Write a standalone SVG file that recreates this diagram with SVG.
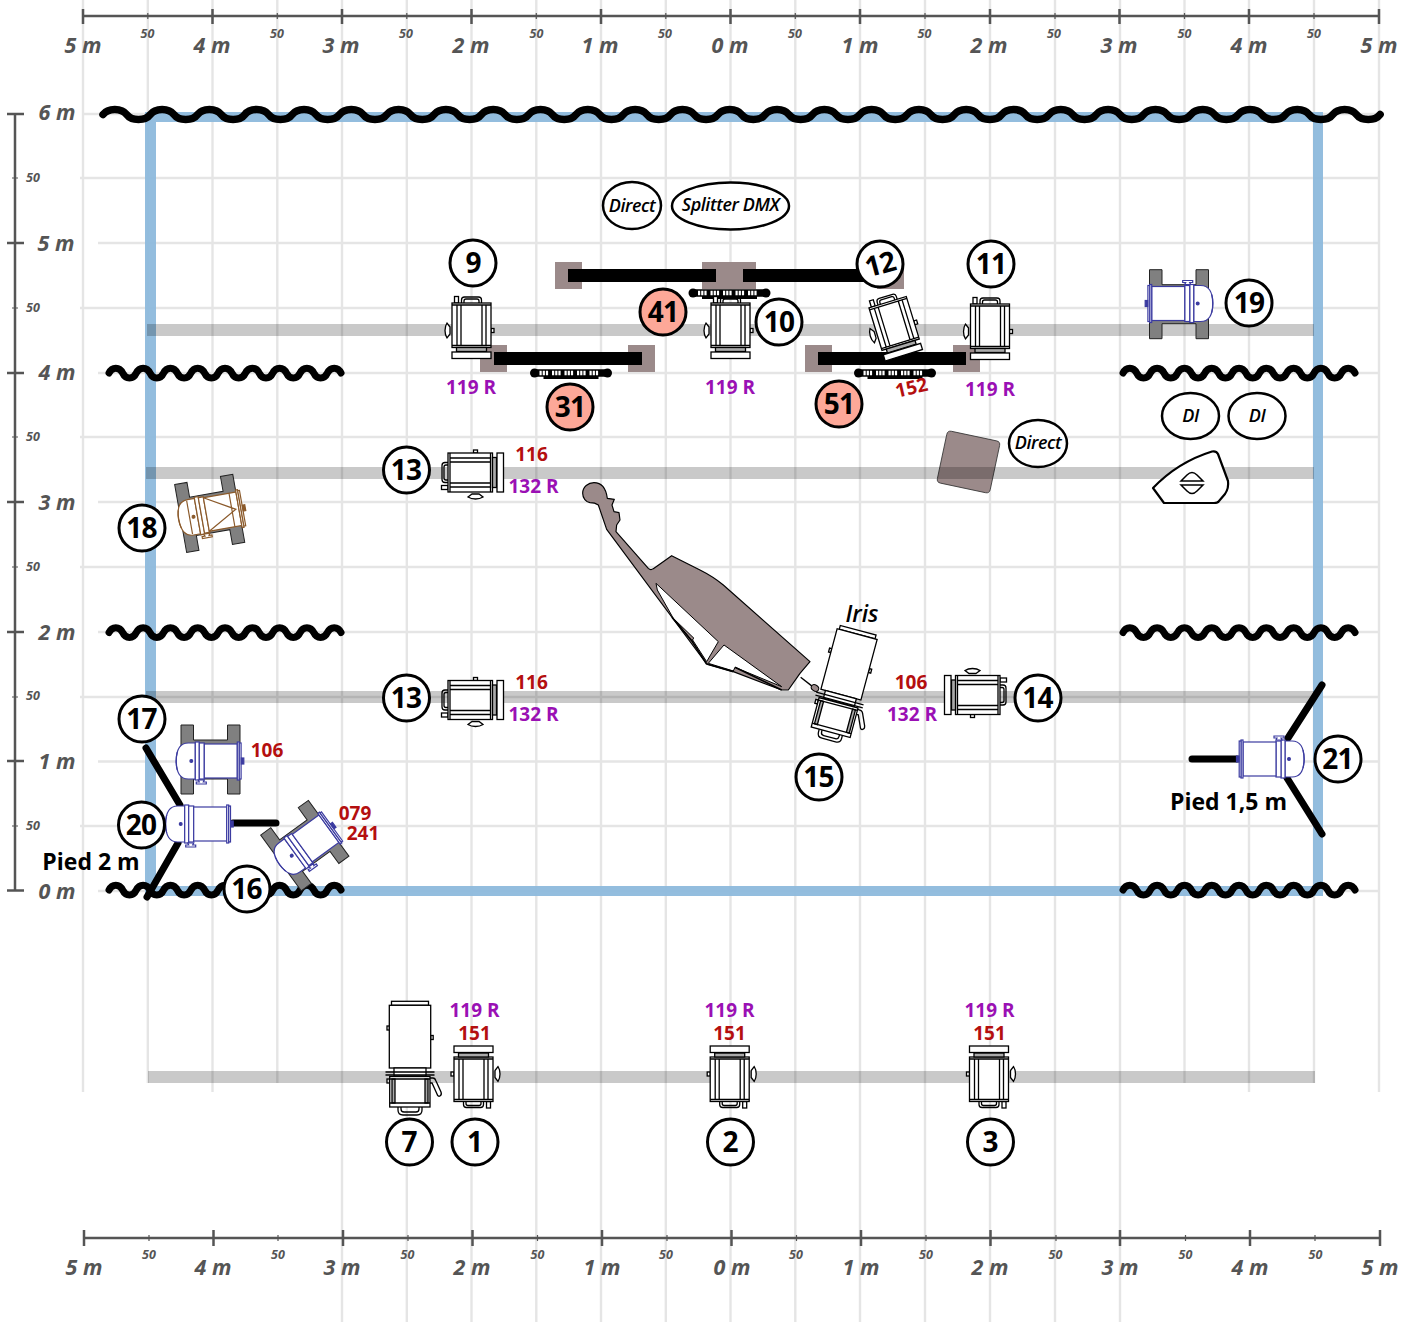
<svg xmlns="http://www.w3.org/2000/svg" xmlns:xlink="http://www.w3.org/1999/xlink" width="1413" height="1322" viewBox="0 0 1413 1322">
<style>
text{font-family:"Open Sans","Noto Sans",sans-serif}
.grid line{stroke:#e5e5e5;stroke-width:2.4}
.rul line,.rul path{stroke:#555;fill:none}
.rul .a{stroke-width:2.5}
.rul .b{stroke-width:1.2}
.m{font-size:21.5px;font-weight:700;font-style:italic;fill:#555;text-anchor:middle}
.h{font-size:12.5px;font-weight:700;font-style:italic;fill:#555;text-anchor:middle}
.wave{fill:none;stroke:#000;stroke-linecap:round;stroke-linejoin:round}
.c{fill:#fff;stroke:#000;stroke-width:3}
.s{fill:#fda898;stroke:#000;stroke-width:3}
.n{font-size:28px;font-weight:700;fill:#000;text-anchor:middle;letter-spacing:-.8px}
.e{fill:#fff;stroke:#000;stroke-width:2.5}
.i{font-size:18px;font-weight:600;font-style:italic;fill:#000;text-anchor:middle;letter-spacing:-.4px}
.p{font-size:19px;font-weight:700;fill:#9a10b4;text-anchor:middle}
.r{font-size:19px;font-weight:700;fill:#b40f0f;text-anchor:middle}
.k{font-size:23px;font-weight:700;fill:#000;text-anchor:middle}
.riser{fill:#9b8a8a}
.bar{fill:#000}
.pipe{fill:#000;fill-opacity:.21}
.leg{stroke:#000;stroke-width:7;stroke-linecap:round;fill:none}
.fx *{fill:#fff;stroke:#000;stroke-width:1.3}
.fx .g{fill:#aaa}
.fx .l{fill:none}
.lamp *{fill:#fff;stroke:currentColor;stroke-width:1.2}
.lamp .d{fill:currentColor}
.lamp .l{fill:none}
.base{fill:#808080;stroke:#222;stroke-width:1}
</style>
<defs>
<path id="wl" d="M0 0c3 -6.500 10.650 -6.500 13.650 0s10.650 6.500 13.650 0s10.650 -6.500 13.650 0s10.650 6.500 13.650 0s10.650 -6.500 13.650 0s10.650 6.500 13.650 0s10.650 -6.500 13.650 0s10.650 6.500 13.650 0s10.650 -6.500 13.650 0s10.650 6.500 13.650 0s10.650 -6.500 13.650 0s10.650 6.500 13.650 0s10.650 -6.500 13.650 0s10.650 6.500 13.650 0s10.650 -6.500 13.650 0s10.650 6.500 13.650 0s10.650 -6.500 13.650 0"/>
<g id="par" class="fx">
<path class="l" d="M-10 -27v-3q0 -3 3 -3h14q3 0 3 3v3M-7.500 -27v-2q0 -2 2 -2h11q2 0 2 2v2"/>
<rect x="-17" y="-33.500" width="4" height="6.500"/>
<path d="M-21.500 -3l-3 -4q-2 3 -2 7.500t2 7.500l3 -4z"/>
<rect x="19.500" y="-1.500" width="3" height="4"/>
<rect x="-19.500" y="-27" width="39" height="44.500"/>
<path class="l" d="M-19.500 -25h39M-19.500 15.500h39M-14.500 -25v40.500M-10.500 -25v40.500M10.500 -25v40.500M14.500 -25v40.500"/>
<rect class="g" x="-15" y="17.500" width="30" height="4"/>
<rect x="-19.500" y="22" width="39" height="6.500"/>
</g>
<g id="amp" class="fx">
<rect x="-18.500" y="-56.700" width="37" height="4"/>
<rect x="-23" y="-32" width="2.500" height="4"/>
<rect x="20.700" y="-22.500" width="2.500" height="4"/>
<rect x="-20.700" y="-52.700" width="41.400" height="62.700"/>
<rect x="-16" y="10" width="32" height="8"/>
<path class="l" d="M-24.500 14h49M-24.500 17h49"/>
<path class="l" d="M20 20h3q2 0 3 3l5 11q1 3 -1 4t-3 -2l-5 -11h-2"/>
<rect x="-23" y="21" width="2.500" height="4"/>
<path class="l" d="M-12 49v3q0 5 5 5h14q5 0 5 -5v-3M-9 49v2q0 3 3 3h12q3 0 3 -3v-2"/>
<rect x="-20.300" y="18.500" width="40.300" height="30.500"/>
<rect class="g" x="-18" y="21" width="3" height="24"/>
<rect class="g" x="15" y="21" width="3" height="24"/>
<path class="l" d="M-20.300 45h40.300M-20.300 21h40.300"/>
</g>
<g id="lamp" class="lamp">
<path d="M-12 -18H-19Q-31 -18 -31 0Q-31 18 -19 18H-12Z"/>
<path class="l" d="M-30 -9Q-32.500 0 -30 9"/>
<rect x="-12" y="-19" width="4" height="38"/>
<rect x="-8" y="-18" width="5" height="36"/>
<rect x="-3" y="-17" width="33" height="34"/>
<rect x="30" y="-19" width="2" height="38"/>
<rect x="32" y="-18" width="1.800" height="36"/>
<rect class="d" x="34" y="-3" width="2.500" height="6"/>
<circle class="d" cx="-16" cy="0" r="1.400"/>
<path d="M-9 19l1 2h-3l0 2h10l0 -2h-3l1 -2z"/>
</g>
<g id="base"><path class="base" d="M-29 -35H-16.500V-20H17.500V-35H30V34H17.500V19H-16.500V34H-29Z"/></g>
<g id="strip">
<circle cx="-36.500" r="4.500"/><circle cx="36.500" r="4.500"/>
<rect x="-37" y="-3.800" width="74" height="7.600" rx="2"/>
<rect x="-27.500" y="2" width="55" height="4"/>
<path stroke="#fff" stroke-width="4.600" d="M-31.500 0h2.200m1 0h2.200m1 0h2.200M-19 0h2.200m1 0h2.200m1 0h2.200M-6.500 0h2.200m1 0h2.200m1 0h2.200M6 0h2.200m1 0h2.200m1 0h2.200M18.500 0h2.200m1 0h2.200m1 0h2.200"/>
</g>
</defs>
<rect width="1413" height="1322" fill="#fff"/>
<g id="grid" class="grid">
<line x1="83" y1="0" x2="83" y2="1092"/><line x1="147.800" y1="0" x2="147.800" y2="1083"/><line x1="212.500" y1="0" x2="212.500" y2="1092"/><line x1="277.300" y1="0" x2="277.300" y2="1083"/><line x1="342" y1="0" x2="342" y2="1322"/><line x1="406.800" y1="0" x2="406.800" y2="1322"/><line x1="471.500" y1="0" x2="471.500" y2="1322"/><line x1="536.300" y1="0" x2="536.300" y2="1322"/><line x1="601" y1="0" x2="601" y2="1322"/><line x1="665.800" y1="0" x2="665.800" y2="1322"/><line x1="730.500" y1="0" x2="730.500" y2="1322"/><line x1="795.300" y1="0" x2="795.300" y2="1322"/><line x1="860" y1="0" x2="860" y2="1322"/><line x1="925" y1="0" x2="925" y2="1322"/><line x1="990" y1="0" x2="990" y2="1322"/><line x1="1055" y1="0" x2="1055" y2="1322"/><line x1="1120" y1="0" x2="1120" y2="1322"/><line x1="1184.500" y1="0" x2="1184.500" y2="1083"/><line x1="1249" y1="0" x2="1249" y2="1092"/><line x1="1314" y1="0" x2="1314" y2="1083"/><line x1="1379" y1="0" x2="1379" y2="1092"/>
<line x1="83" y1="114" x2="1379" y2="114"/><line x1="80" y1="178" x2="1379" y2="178"/><line x1="98" y1="243" x2="1379" y2="243"/><line x1="80" y1="308" x2="1379" y2="308"/><line x1="98" y1="373" x2="1379" y2="373"/><line x1="80" y1="437" x2="1379" y2="437"/><line x1="98" y1="502" x2="1379" y2="502"/><line x1="80" y1="567" x2="1379" y2="567"/><line x1="98" y1="632" x2="1379" y2="632"/><line x1="80" y1="697" x2="1379" y2="697"/><line x1="98" y1="761.500" x2="1379" y2="761.500"/><line x1="80" y1="826" x2="1379" y2="826"/><line x1="98" y1="891" x2="1379" y2="891"/>
</g>
<g id="rulers" class="rul">
<line class="a" x1="83" y1="16" x2="1379" y2="16"/>
<path class="a" d="M83 9v15M212.500 9v15M342 9v15M471.500 9v15M601 9v15M730.500 9v15M860 9v15M990 9v15M1119.500 9v15M1249 9v15M1379 9v15"/>
<path class="b" d="M147.800 13v6M277.300 13v6M406.800 13v6M536.300 13v6M665.800 13v6M795.300 13v6M925 13v6M1055 13v6M1184.500 13v6M1314 13v6"/>
<line class="a" x1="84" y1="1238" x2="1380" y2="1238"/>
<path class="a" d="M84 1230v16M213.500 1230v16M343 1230v16M472.500 1230v16M602 1230v16M731.500 1230v16M861 1230v16M990.500 1230v16M1120 1230v16M1250 1230v16M1380 1230v16"/>
<path class="b" d="M149 1235v6M278 1235v6M408 1235v6M537.500 1235v6M667 1235v6M796.500 1235v6M926 1235v6M1056 1235v6M1185.500 1235v6M1315 1235v6"/>
<line class="a" x1="15" y1="114" x2="15" y2="891"/>
<path class="a" d="M7 114h17M7 243h17M7 373h17M7 502h17M7 632h17M7 761h17M7 890.500h17"/>
<path class="b" d="M12 178h6M12 308h6M12 437h6M12 567h6M12 697h6M12 826h6"/>
</g>
<g id="ruler-labels">
<text class="m" x="83" y="53">5 m</text><text class="m" x="212" y="53">4 m</text><text class="m" x="341" y="53">3 m</text><text class="m" x="471" y="53">2 m</text><text class="m" x="600" y="53">1 m</text><text class="m" x="730" y="53">0 m</text><text class="m" x="860" y="53">1 m</text><text class="m" x="989" y="53">2 m</text><text class="m" x="1119" y="53">3 m</text><text class="m" x="1249" y="53">4 m</text><text class="m" x="1379" y="53">5 m</text>
<text class="h" x="147.500" y="38">50</text><text class="h" x="277" y="38">50</text><text class="h" x="406" y="38">50</text><text class="h" x="536.500" y="38">50</text><text class="h" x="665" y="38">50</text><text class="h" x="795" y="38">50</text><text class="h" x="924.500" y="38">50</text><text class="h" x="1054" y="38">50</text><text class="h" x="1184.500" y="38">50</text><text class="h" x="1314" y="38">50</text>
<text class="m" x="84" y="1275">5 m</text><text class="m" x="213" y="1275">4 m</text><text class="m" x="342" y="1275">3 m</text><text class="m" x="472" y="1275">2 m</text><text class="m" x="602" y="1275">1 m</text><text class="m" x="732" y="1275">0 m</text><text class="m" x="861" y="1275">1 m</text><text class="m" x="990" y="1275">2 m</text><text class="m" x="1120" y="1275">3 m</text><text class="m" x="1250" y="1275">4 m</text><text class="m" x="1380" y="1275">5 m</text>
<text class="h" x="149" y="1259">50</text><text class="h" x="278" y="1259">50</text><text class="h" x="407.500" y="1259">50</text><text class="h" x="537.500" y="1259">50</text><text class="h" x="666" y="1259">50</text><text class="h" x="796" y="1259">50</text><text class="h" x="926" y="1259">50</text><text class="h" x="1055.500" y="1259">50</text><text class="h" x="1185.500" y="1259">50</text><text class="h" x="1315.500" y="1259">50</text>
<text class="m" x="57" y="120">6 m</text><text class="m" x="56" y="250.500">5 m</text><text class="m" x="57" y="380">4 m</text><text class="m" x="57" y="510">3 m</text><text class="m" x="57" y="640">2 m</text><text class="m" x="57" y="769">1 m</text><text class="m" x="57" y="898.500">0 m</text>
<text class="h" x="33" y="182">50</text><text class="h" x="33" y="312">50</text><text class="h" x="33" y="441">50</text><text class="h" x="33" y="571">50</text><text class="h" x="33" y="700">50</text><text class="h" x="33" y="830">50</text>
</g>
<g id="stage">
<path fill="#8db9dc" fill-opacity=".95" d="M145 112H1323V896H145ZM156 122V886H1313V122Z" fill-rule="evenodd"/>
<rect class="riser" x="555" y="262" width="27" height="27"/><rect class="riser" x="702" y="262" width="54" height="27"/><rect class="riser" x="877" y="262" width="27" height="27"/>
<rect class="riser" x="480" y="345" width="27" height="27"/><rect class="riser" x="628" y="345" width="27" height="27"/><rect class="riser" x="805" y="345" width="27" height="27"/><rect class="riser" x="953" y="345" width="27" height="27"/>
<rect id="riser-table" class="riser" x="941.500" y="435.500" width="54" height="53" rx="4" stroke="#333" stroke-width=".8" transform="rotate(12 968.500 462)"/>
<rect class="pipe" x="147" y="324" width="1167" height="12"/>
<rect class="pipe" x="146" y="467" width="1168" height="12"/>
<rect class="pipe" x="146" y="691" width="1168" height="12"/>
<rect class="pipe" x="148" y="1071" width="1167" height="12"/>
</g>
<g id="waves">
<path class="wave" stroke-width="7.500" d="M103 114.500c5 -6.700 18.650 -6.700 23.650 0s18.650 6.700 23.650 0s18.650 -6.700 23.650 0s18.650 6.700 23.650 0s18.650 -6.700 23.650 0s18.650 6.700 23.650 0s18.650 -6.700 23.650 0s18.650 6.700 23.650 0s18.650 -6.700 23.650 0s18.650 6.700 23.650 0s18.650 -6.700 23.650 0s18.650 6.700 23.650 0s18.650 -6.700 23.650 0s18.650 6.700 23.650 0s18.650 -6.700 23.650 0s18.650 6.700 23.650 0s18.650 -6.700 23.650 0s18.650 6.700 23.650 0s18.650 -6.700 23.650 0s18.650 6.700 23.650 0s18.650 -6.700 23.650 0s18.650 6.700 23.650 0s18.650 -6.700 23.650 0s18.650 6.700 23.650 0s18.650 -6.700 23.650 0s18.650 6.700 23.650 0s18.650 -6.700 23.650 0s18.650 6.700 23.650 0s18.650 -6.700 23.650 0s18.650 6.700 23.650 0s18.650 -6.700 23.650 0s18.650 6.700 23.650 0s18.650 -6.700 23.650 0s18.650 6.700 23.650 0s18.650 -6.700 23.650 0s18.650 6.700 23.650 0s18.650 -6.700 23.650 0s18.650 6.700 23.650 0s18.650 -6.700 23.650 0s18.650 6.700 23.650 0s18.650 -6.700 23.650 0s18.650 6.700 23.650 0s18.650 -6.700 23.650 0s18.650 6.700 23.650 0s18.650 -6.700 23.650 0s18.650 6.700 23.650 0s18.650 -6.700 23.650 0s18.650 6.700 23.650 0s18.650 -6.700 23.650 0s18.650 6.700 23.650 0s18.650 -6.700 23.650 0s18.650 6.700 23.650 0s18.650 -6.700 23.650 0s18.650 6.700 23.650 0"/>
<use class="wave" stroke-width="7" href="#wl" x="109" y="373"/><use class="wave" stroke-width="7" href="#wl" x="1123" y="373"/>
<use class="wave" stroke-width="7" href="#wl" x="109" y="632.500"/><use class="wave" stroke-width="7" href="#wl" x="1123" y="632.500"/>
<use class="wave" stroke-width="7" href="#wl" x="109" y="890"/><use class="wave" stroke-width="7" href="#wl" x="1123" y="890"/>
</g>
<g id="bars">
<rect class="bar" x="568" y="269" width="148" height="13"/><rect class="bar" x="743" y="269" width="148" height="13"/>
<rect class="bar" x="494" y="352" width="148" height="13"/><rect class="bar" x="818" y="352" width="148" height="13"/>
</g>
<g id="legs">
<path class="leg" d="M146 748L180 805M147 897L178 843M233 823H276"/>
<path class="leg" d="M1322 685L1288 738M1322 834L1287 778M1192 759H1237"/>
</g>
<g id="bass" transform="translate(570 470) scale(.3333)">
<path fill="#9b8a8a" stroke="#000" stroke-width="3.500" stroke-linejoin="round" d="M38 70C38 50 55 38 72 38C95 38 108 55 112 85L133 88L126 105L132 125L147 128L150 150L140 165L138 185L235 295Q242 302 250 296L305 257L390 300Q430 320 460 345L720 575L690 610L655 660L635 660L490 605L410 582L110 178L85 105Q75 98 60 98C48 96 38 85 38 70Z"/>
<path fill="#fff" stroke="#000" stroke-width="3" d="M258 340L445 515L410 575L368 510L310 445L262 360Z"/>
<path fill="#9b8a8a" stroke="#000" stroke-width="3" d="M310 445L372 505L365 512L360 505Z"/>
<path fill="#fff" stroke="#000" stroke-width="3" d="M462 525L635 650L495 592L490 603L415 580Z"/>
<path fill="none" stroke="#000" stroke-width="5" d="M410 582L490 605M495 592L635 660M306 442L365 512L410 582"/>
<path fill="none" stroke="#000" stroke-width="4" d="M692 622L728 650"/>
<ellipse cx="735" cy="654" rx="12" ry="9" fill="#9b8a8a" stroke="#000" stroke-width="3" transform="rotate(35 735 654)"/>
</g>
<g id="strip-41"><use href="#strip" x="729.500" y="293"/></g>
<g id="strip-31"><use href="#strip" x="571" y="373"/></g>
<g id="strip-51"><use href="#strip" x="895" y="373"/></g>
<g id="fx-9"><use href="#par" transform="translate(471.500 330)"/></g>
<g id="fx-10"><use href="#par" transform="translate(730.500 330)"/></g>
<g id="fx-11"><use href="#par" transform="translate(990 331)"/></g>
<g id="fx-12"><use href="#par" transform="translate(895.500 328) rotate(-17)"/></g>
<g id="fx-13a"><use href="#par" transform="translate(475 472.500) rotate(-90)"/></g>
<g id="fx-13b"><use href="#par" transform="translate(475 700) rotate(-90)"/></g>
<g id="fx-14"><use href="#par" transform="translate(973 695) rotate(90)"/></g>
<g id="fx-1"><use href="#par" transform="translate(473.500 1074.500) rotate(180)"/></g>
<g id="fx-2"><use href="#par" transform="translate(729.700 1074.500) rotate(180)"/></g>
<g id="fx-3"><use href="#par" transform="translate(989 1074.500) rotate(180)"/></g>
<g id="fx-7"><use href="#amp" transform="translate(410 1058)"/></g>
<g id="fx-15"><use href="#amp" transform="translate(843.500 685) rotate(15)"/></g>
<g id="fx-17"><use href="#base" transform="translate(210 760)"/><use href="#lamp" color="#3b3ba0" transform="translate(207.300 761)"/></g>
<g id="fx-20"><use href="#lamp" color="#3b3ba0" transform="translate(196.700 824)"/></g>
<g id="fx-16"><use href="#base" transform="translate(304.700 846.300) rotate(-36)"/><use href="#lamp" color="#3b3ba0" transform="translate(304.700 846.300) rotate(-36)"/></g>
<g id="fx-19"><use href="#base" transform="translate(1178.500 304.700)"/><use href="#lamp" color="#3b3ba0" transform="translate(1181.700 303.500) rotate(180)"/></g>
<g id="fx-21"><use href="#lamp" color="#3b3ba0" transform="translate(1273 759) rotate(180)"/></g>
<g id="fx-18"><use href="#base" transform="translate(209.300 514) rotate(-10)"/><use href="#lamp" color="#8b5a2b" transform="translate(209.300 514) rotate(-10)"/><path fill="none" stroke="#8b5a2b" stroke-width="1.200" transform="translate(209.300 514) rotate(-10)" d="M-3 -17L27 0L-3 17M-20 -17V17M23 -17V17"/></g>
<g id="mon"><path fill="#fff" stroke="#000" stroke-width="2.200" stroke-linejoin="round" d="M1153 488Q1178 462 1212 451.500Q1216 450.500 1218 454L1228 481Q1229 488 1225 494L1219 501Q1218 503 1214 503H1164Z"/><path fill="none" stroke="#000" stroke-width="1.500" d="M1181 481H1203L1197 475Q1192 470 1187 475ZM1181 485H1203L1197 491Q1192 496 1187 491Z"/></g>
<g id="e-direct"><ellipse class="e" cx="632" cy="205.500" rx="29" ry="23.500"/><text class="i" x="632" y="212">Direct</text></g>
<g id="e-splitter"><ellipse class="e" cx="730.500" cy="206" rx="58.500" ry="23.500"/><text class="i" x="730.500" y="211">Splitter DMX</text></g>
<g id="e-direct2"><ellipse class="e" cx="1038" cy="443.500" rx="29" ry="23.500"/><text class="i" x="1038" y="449">Direct</text></g>
<g id="e-di1"><ellipse class="e" cx="1190.500" cy="416" rx="28.500" ry="23"/><text class="i" x="1190.500" y="422">DI</text></g>
<g id="e-di2"><ellipse class="e" cx="1257" cy="416" rx="28.500" ry="23"/><text class="i" x="1257" y="422">DI</text></g>
<g id="n-9"><circle class="c" cx="473" cy="263" r="23"/><text class="n" x="473" y="273">9</text></g>
<g id="n-11"><circle class="c" cx="991" cy="264" r="23"/><text class="n" x="991" y="274">11</text></g>
<g id="n-12"><circle class="c" cx="880" cy="264" r="23"/><text class="n" transform="rotate(-15 880 264)" x="880" y="274">12</text></g>
<g id="n-10"><circle class="c" cx="779" cy="322" r="23"/><text class="n" x="779" y="332">10</text></g>
<g id="n-41"><circle class="s" cx="663" cy="312" r="23"/><text class="n" x="663" y="322">41</text></g>
<g id="n-31"><circle class="s" cx="570" cy="407" r="23"/><text class="n" x="570" y="417">31</text></g>
<g id="n-51"><circle class="s" cx="839" cy="404" r="23"/><text class="n" x="839" y="414">51</text></g>
<g id="n-19"><circle class="c" cx="1249" cy="303" r="23"/><text class="n" x="1249" y="313">19</text></g>
<g id="n-13a"><circle class="c" cx="406.500" cy="470" r="23"/><text class="n" x="406" y="480">13</text></g>
<g id="n-13b"><circle class="c" cx="406.500" cy="698" r="23"/><text class="n" x="406" y="708">13</text></g>
<g id="n-18"><circle class="c" cx="142" cy="528" r="23"/><text class="n" x="141.500" y="538">18</text></g>
<g id="n-17"><circle class="c" cx="142" cy="719" r="23"/><text class="n" x="141.500" y="729">17</text></g>
<g id="n-20"><circle class="c" cx="141.500" cy="825" r="23"/><text class="n" x="141" y="835">20</text></g>
<g id="n-16"><circle class="c" cx="247" cy="889" r="23"/><text class="n" x="246.500" y="899">16</text></g>
<g id="n-15"><circle class="c" cx="819" cy="777" r="23"/><text class="n" x="818.500" y="787">15</text></g>
<g id="n-14"><circle class="c" cx="1038" cy="698" r="23"/><text class="n" x="1037.500" y="708">14</text></g>
<g id="n-21"><circle class="c" cx="1338" cy="759" r="23"/><text class="n" x="1337.500" y="769">21</text></g>
<g id="n-7"><circle class="c" cx="409.500" cy="1142" r="23"/><text class="n" x="409" y="1152">7</text></g>
<g id="n-1"><circle class="c" cx="475" cy="1142" r="23"/><text class="n" x="474.500" y="1152">1</text></g>
<g id="n-2"><circle class="c" cx="730.500" cy="1142" r="23"/><text class="n" x="730" y="1152">2</text></g>
<g id="n-3"><circle class="c" cx="990.500" cy="1142" r="23"/><text class="n" x="990" y="1152">3</text></g>
<g id="labels">
<text class="p" x="471" y="394">119 R</text><text class="p" x="730" y="394">119 R</text><text class="p" x="990" y="395.500">119 R</text>
<text class="r" transform="translate(913 394) rotate(-13)">152</text>
<text class="r" x="531.500" y="461">116</text><text class="p" x="533.500" y="493">132 R</text>
<text class="r" x="531.500" y="689">116</text><text class="p" x="533.500" y="721">132 R</text>
<text class="r" x="911" y="689">106</text><text class="p" x="912" y="721">132 R</text>
<text class="r" x="267" y="757">106</text>
<text class="r" x="355" y="820">079</text><text class="r" x="363" y="840">241</text>
<text class="p" x="474.500" y="1017">119 R</text><text class="r" x="474.500" y="1040">151</text>
<text class="p" x="729.500" y="1017">119 R</text><text class="r" x="729.500" y="1040">151</text>
<text class="p" x="989.500" y="1017">119 R</text><text class="r" x="989.500" y="1040">151</text>
<text class="k" x="862" y="622" font-style="italic" style="font-weight:600">Iris</text>
<text class="k" x="91" y="870">Pied 2 m</text>
<text class="k" x="1228.500" y="810">Pied 1,5 m</text>
</g>
</svg>
